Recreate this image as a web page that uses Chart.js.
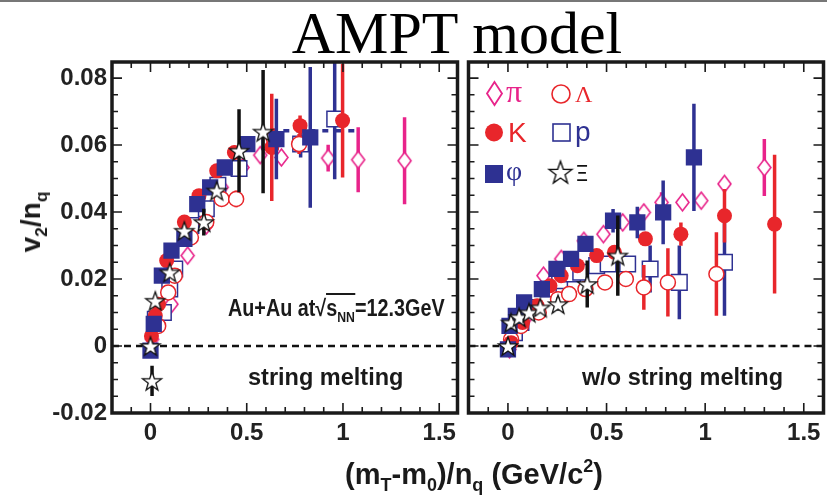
<!DOCTYPE html>
<html>
<head>
<meta charset="utf-8">
<script src="https://cdn.jsdelivr.net/npm/chart.js@4.4.0/dist/chart.umd.min.js"></script>
<style>
html, body { margin: 0; padding: 0; background: #fff; }
body { width: 827px; height: 496px; overflow: hidden; position: relative; font-family: 'Liberation Sans', Arial, sans-serif; color: #1a1a1a; }
canvas { position: absolute; top: 0; }
.t { position: absolute; white-space: nowrap; line-height: 1; }
.sb { font-size: 0.62em; position: relative; top: 0.4em; }
.sp { font-size: 0.62em; position: relative; top: -0.65em; }
.serif { font-family: 'Liberation Serif', 'Times New Roman', serif; }
</style>
</head>
<body>
<div style="position:absolute;left:0;top:0;width:827px;height:2px;background:#777"></div>
<canvas id="left" width="470" height="496" style="left:0"></canvas>
<canvas id="right" width="380" height="496" style="left:456px"></canvas>

<div class="t serif" style="left:57px;top:3px;width:800px;text-align:center;font-size:60px;color:#000">AMPT model</div>
<div class="t" style="left:31px;top:222px;transform:translate(-50%,-50%) rotate(-90deg);font-size:28px;font-weight:bold">v<span class="sb">2</span>/n<span class="sb">q</span></div>
<div class="t" style="left:274px;top:460px;width:400px;text-align:center;font-size:29px;font-weight:bold">(m<span class="sb">T</span>-m<span class="sb">0</span>)/n<span class="sb">q</span> (GeV/c<span class="sp">2</span>)</div>
<div class="t" style="left:228px;top:297px;font-size:23px;font-weight:bold;transform:scaleX(0.86);transform-origin:left">Au+Au at√<span style="border-top:2px solid #1a1a1a">s<span class="sb">NN</span></span>=12.3GeV</div>
<div class="t" style="left:248px;top:366px;font-size:23.5px;font-weight:bold">string melting</div>
<div class="t" style="left:582px;top:366px;font-size:23.5px;font-weight:bold">w/o string melting</div>

<div class="t serif" style="left:506px;top:75px;font-size:32px;color:#e8238a">π</div>
<div class="t serif" style="left:575px;top:82px;font-size:24px;color:#e8262b">Λ</div>
<div class="t" style="left:508px;top:119px;font-size:28px;color:#e8262b">K</div>
<div class="t" style="left:575px;top:118px;font-size:28px;color:#2e3192">p</div>
<div class="t serif" style="left:506px;top:157px;font-size:28px;color:#2e3192">φ</div>
<div class="t" style="left:575px;top:163px;font-size:22px;font-family:'DejaVu Sans';color:#111">Ξ</div>

<script>
// axes
const xTickValues = [0, 0.5, 1, 1.5];
const xTickLabels = ['0', '0.5', '1', '1.5'];
const yTickValues = [-0.02, 0, 0.02, 0.04, 0.06, 0.08];
const yTickLabels = ['-0.02', '0', '0.02', '0.04', '0.06', '0.08'];

// string melting (left panel)
const smPiX   = [0.008, 0.05, 0.109, 0.193, 0.29, 0.37, 0.478, 0.57, 0.68, 0.923, 1.079, 1.32];
const smPiY   = [0.002, 0.010, 0.0125, 0.027, 0.036, 0.0474, 0.0533, 0.057, 0.0563, 0.0561, 0.0556, 0.0553];
const smPiErr = [0, 0, 0, 0, 0, 0, 0, 0, 0.002, 0.004, 0.0097, 0.013];

const smKX   = [0.005, 0.025, 0.042, 0.084, 0.176, 0.252, 0.344, 0.436, 0.63, 0.777, 0.998];
const smKY   = [0.003, 0.009, 0.0125, 0.0255, 0.037, 0.0449, 0.0523, 0.0578, 0.0593, 0.0658, 0.0673];
const smKErr = [0, 0, 0, 0, 0, 0, 0, 0.002, 0.016, 0.003, 0.017];

const smLamX   = [0.04, 0.092, 0.126, 0.21, 0.29, 0.37, 0.445, 0.64, 0.772];
const smLamY   = [0.006, 0.016, 0.021, 0.0324, 0.037, 0.0439, 0.0439, 0.062, 0.0603];
const smLamErr = [0, 0, 0, 0, 0, 0, 0.0025, 0.003, 0.003];

const smPX   = [0.025, 0.067, 0.1, 0.126, 0.21, 0.29, 0.35, 0.46, 0.62, 0.78, 0.957];
const smPY   = [0.008, 0.010, 0.017, 0.023, 0.036, 0.041, 0.048, 0.053, 0.061, 0.0603, 0.0678];
const smPErr = [0, 0, 0, 0, 0, 0, 0, 0, 0.003, 0.004, 0.018];

const smPhiX   = [0.0, 0.017, 0.059, 0.109, 0.176, 0.243, 0.31, 0.386, 0.503, 0.654, 0.83];
const smPhiY   = [-0.0014, 0.0066, 0.021, 0.0285, 0.032, 0.0424, 0.0474, 0.0533, 0.0603, 0.0618, 0.0623];
const smPhiErr = [0, 0, 0, 0, 0, 0, 0, 0, 0.002, 0.012, 0.021];

const smXiX   = [0.008, 0.0, 0.025, 0.1, 0.176, 0.277, 0.344, 0.46, 0.585];
const smXiY   = [-0.0104, 0.0, 0.0135, 0.022, 0.0344, 0.037, 0.0464, 0.0583, 0.064];
const smXiErr = [0.0045, 0, 0, 0, 0, 0.004, 0, 0.0124, 0.0184];

const smFitX = [0.69, 1.08];
const smFitY = [0.0643, 0.0643];

// w/o string melting (right panel)
const dfPiX   = [0.008, 0.033, 0.1, 0.18, 0.27, 0.385, 0.484, 0.582, 0.689, 0.779, 0.885, 0.98, 1.098, 1.30];
const dfPiY   = [-0.001, 0.003, 0.009, 0.021, 0.026, 0.0314, 0.0334, 0.0369, 0.0399, 0.0429, 0.0429, 0.0434, 0.0484, 0.0533];
const dfPiErr = [0, 0, 0, 0, 0, 0, 0, 0, 0, 0.003, 0, 0, 0.002, 0.0085];

const dfKX   = [0.016, 0.074, 0.148, 0.213, 0.27, 0.352, 0.45, 0.54, 0.697, 0.877, 1.098, 1.352];
const dfKY   = [0.001, 0.007, 0.012, 0.018, 0.021, 0.024, 0.027, 0.028, 0.032, 0.0334, 0.0389, 0.0364];
const dfKErr = [0, 0, 0, 0, 0, 0, 0, 0.002, 0, 0.0035, 0.008, 0.0207];

const dfLamX   = [0.016, 0.066, 0.156, 0.254, 0.31, 0.393, 0.492, 0.598, 0.689, 0.811, 1.057];
const dfLamY   = [0.002, 0.006, 0.010, 0.014, 0.0155, 0.017, 0.019, 0.020, 0.0175, 0.019, 0.0215];
const dfLamErr = [0, 0, 0, 0, 0, 0.002, 0.002, 0.002, 0.0067, 0.0102, 0.0125];

const dfPX   = [0.033, 0.066, 0.123, 0.205, 0.262, 0.328, 0.369, 0.45, 0.508, 0.607, 0.721, 0.869, 1.098];
const dfPY   = [0.004, 0.007, 0.0115, 0.017, 0.0195, 0.0215, 0.022, 0.024, 0.0245, 0.0245, 0.023, 0.019, 0.025];
const dfPErr = [0, 0, 0, 0, 0, 0, 0, 0, 0, 0, 0.007, 0.011, 0.016];

const dfPhiX   = [0.0, 0.008, 0.04, 0.082, 0.172, 0.246, 0.32, 0.393, 0.533, 0.656, 0.787, 0.943];
const dfPhiY   = [-0.001, 0.006, 0.009, 0.013, 0.017, 0.023, 0.026, 0.0305, 0.0374, 0.0369, 0.0399, 0.0563];
const dfPhiErr = [0, 0, 0, 0, 0, 0, 0, 0, 0.0035, 0.0047, 0.0095, 0.016];

const dfXiX   = [0.0, 0.016, 0.057, 0.107, 0.164, 0.254, 0.402, 0.557];
const dfXiY   = [0.0, 0.007, 0.0086, 0.010, 0.0115, 0.0125, 0.0185, 0.027];
const dfXiErr = [0, 0.002, 0, 0, 0, 0.002, 0.007, 0.012];

const RED = '#e8262b', BLUE = '#2e3192', PINK = '#e8238a', BLACK = '#111';

function makeDiamond(w, h, lw) {
  const c = document.createElement('canvas');
  c.width = w + 4; c.height = h + 4;
  const g = c.getContext('2d');
  g.beginPath();
  g.moveTo(c.width / 2, 2); g.lineTo(c.width - 2, c.height / 2);
  g.lineTo(c.width / 2, c.height - 2); g.lineTo(2, c.height / 2);
  g.closePath();
  g.fillStyle = '#fff'; g.fill();
  g.strokeStyle = PINK; g.lineWidth = lw; g.stroke();
  return c;
}
function makeStar(R, lw) {
  const c = document.createElement('canvas');
  c.width = c.height = Math.ceil(2 * R + 4);
  const g = c.getContext('2d');
  const cx = c.width / 2, cy = c.height / 2 + R * 0.1, r = R * 0.4;
  g.beginPath();
  for (let i = 0; i < 10; i++) {
    const a = -Math.PI / 2 + i * Math.PI / 5;
    const rr = i % 2 ? r : R;
    g.lineTo(cx + rr * Math.cos(a), cy + rr * Math.sin(a));
  }
  g.closePath();
  g.fillStyle = '#fff'; g.fill();
  g.strokeStyle = BLACK; g.lineWidth = lw; g.stroke();
  return c;
}
const diamondImg = makeDiamond(13, 17, 1.6);
const starImg = makeStar(10, 1.3);

function pts(xs, ys) { return xs.map((v, i) => ({x: v, y: ys[i]})); }

function species(xs, ys, errs, style) {
  return Object.assign({data: pts(xs, ys), err: errs, showLine: false}, style);
}
const stXi  = {pointStyle: starImg, borderColor: BLACK, backgroundColor: '#fff'};
const stPhi = {pointStyle: 'rect', pointRadius: 11.5, backgroundColor: BLUE, borderColor: BLUE, borderWidth: 0};
const stK   = {pointStyle: 'circle', pointRadius: 7.5, backgroundColor: RED, borderColor: RED, borderWidth: 0};
const stLam = {pointStyle: 'circle', pointRadius: 7.5, backgroundColor: '#fff', borderColor: RED, borderWidth: 1.5};
const stP   = {pointStyle: 'rect', pointRadius: 11, backgroundColor: '#fff', borderColor: BLUE, borderWidth: 1.5};
const stPi  = {pointStyle: diamondImg, borderColor: PINK, backgroundColor: '#fff'};

const zeroLine = {data: [{x: -0.2, y: 0}, {x: 1.6, y: 0}], showLine: true, pointRadius: 0,
  borderColor: BLACK, borderWidth: 2.5, borderDash: [7, 5]};

// error bars drawn through the chart scales, just under each dataset's markers
const errorBars = {
  id: 'errorBars',
  beforeDatasetDraw(chart, args) {
    const ds = chart.data.datasets[args.index];
    if (!ds.err) return;
    const {ctx, chartArea: a} = chart;
    const x = chart.scales.x, y = chart.scales.y;
    ctx.save();
    ctx.beginPath();
    ctx.rect(a.left, a.top, a.width, a.height);
    ctx.clip();
    ctx.strokeStyle = ds.borderColor;
    ctx.lineWidth = 3.5;
    ds.data.forEach((p, i) => {
      const e = ds.err[i];
      if (!e) return;
      const px = x.getPixelForValue(p.x);
      ctx.beginPath();
      ctx.moveTo(px, y.getPixelForValue(p.y - e));
      ctx.lineTo(px, y.getPixelForValue(p.y + e));
      ctx.stroke();
    });
    ctx.restore();
  }
};

// box + inward ticks on all four sides
const frame = {
  id: 'frame',
  afterDraw(chart) {
    const {ctx, chartArea: a} = chart;
    const x = chart.scales.x, y = chart.scales.y;
    ctx.save();
    ctx.strokeStyle = '#1a1a1a';
    ctx.lineWidth = 1.6;
    ctx.beginPath();
    for (let k = -1; k <= 15; k++) {
      const v = k / 10;
      const px = x.getPixelForValue(v);
      const len = k % 5 === 0 ? 10 : 6;
      ctx.moveTo(px, a.bottom); ctx.lineTo(px, a.bottom - len);
      ctx.moveTo(px, a.top); ctx.lineTo(px, a.top + len);
    }
    for (let k = -3; k <= 16; k++) {
      const v = k * 0.005;
      const py = y.getPixelForValue(v);
      const len = k % 4 === 0 ? 10 : 6;
      ctx.moveTo(a.left, py); ctx.lineTo(a.left + len, py);
      ctx.moveTo(a.right, py); ctx.lineTo(a.right - len, py);
    }
    ctx.stroke();
    ctx.lineWidth = 3.5;
    ctx.strokeRect(a.left, a.top, a.width, a.height);
    ctx.restore();
  }
};

// legend markers (right panel)
const legendMarks = {
  id: 'legendMarks',
  afterDraw(chart) {
    const ctx = chart.ctx, ox = 456;
    ctx.save();
    ctx.drawImage(makeDiamond(15, 23, 1.8), 494.5 - ox - 9.5, 93.5 - 13.5);
    ctx.lineWidth = 1.6;
    ctx.strokeStyle = RED;
    ctx.beginPath(); ctx.arc(561 - ox, 94, 9, 0, 2 * Math.PI); ctx.stroke();
    ctx.fillStyle = RED;
    ctx.beginPath(); ctx.arc(494 - ox, 132.5, 9, 0, 2 * Math.PI); ctx.fill();
    ctx.strokeStyle = BLUE;
    ctx.strokeRect(561.5 - ox - 8.5, 132.5 - 8.5, 17, 17);
    ctx.fillStyle = BLUE;
    ctx.fillRect(494 - ox - 9, 174 - 9, 18, 18);
    const s = makeStar(12, 1.4);
    ctx.drawImage(s, 560.5 - ox - s.width / 2, 172 - s.height / 2);
    ctx.restore();
  }
};

const tickFont = {family: 'Liberation Sans', weight: 'bold'};

function xScale(max) {
  return {
    type: 'linear', min: -0.2, max: max,
    afterBuildTicks: s => { s.ticks = xTickValues.map(v => ({value: v})); },
    afterFit: s => { s.height = 83; },
    ticks: {callback: (v, i) => xTickLabels[i], font: Object.assign({size: 24}, tickFont),
      color: '#222', padding: 6, maxRotation: 0, autoSkip: false},
    grid: {display: false, drawTicks: false},
    border: {display: false}
  };
}
function yScale(show) {
  return {
    type: 'linear', min: -0.02, max: 0.0848, display: show,
    afterBuildTicks: s => { s.ticks = yTickValues.map(v => ({value: v})); },
    afterFit: s => { s.width = show ? 112 : 0; },
    ticks: {callback: (v, i) => yTickLabels[i], font: Object.assign({size: 24}, tickFont),
      color: '#222', padding: 5, autoSkip: false},
    grid: {display: false, drawTicks: false},
    border: {display: false}
  };
}

function panel(id, datasets, xMax, showY, padding, extra) {
  new Chart(document.getElementById(id), {
    type: 'scatter',
    data: {datasets: datasets},
    options: {
      responsive: false,
      animation: false,
      layout: {padding: padding},
      scales: {x: xScale(xMax), y: yScale(showY)},
      plugins: {legend: {display: false}, tooltip: {enabled: false}}
    },
    plugins: [errorBars, frame].concat(extra)
  });
}

panel('left', [
  species(smXiX, smXiY, smXiErr, stXi),
  species(smPhiX, smPhiY, smPhiErr, stPhi),
  species(smKX, smKY, smKErr, stK),
  species(smLamX, smLamY, smLamErr, stLam),
  species(smPX, smPY, smPErr, stP),
  species(smPiX, smPiY, smPiErr, stPi),
  {data: pts(smFitX, smFitY), showLine: true, pointRadius: 0, borderColor: BLUE, borderWidth: 3.5, borderDash: [6, 7]},
  zeroLine
], 1.595, true, {top: 62, left: 0, right: 3, bottom: 0}, []);

panel('right', [
  species(dfXiX, dfXiY, dfXiErr, stXi),
  species(dfPhiX, dfPhiY, dfPhiErr, stPhi),
  species(dfKX, dfKY, dfKErr, stK),
  species(dfLamX, dfLamY, dfLamErr, stLam),
  species(dfPX, dfPY, dfPErr, stP),
  species(dfPiX, dfPiY, dfPiErr, stPi),
  zeroLine
], 1.6, false, {top: 62, left: 11, right: 4, bottom: 0}, [legendMarks]);
</script>
</body>
</html>
